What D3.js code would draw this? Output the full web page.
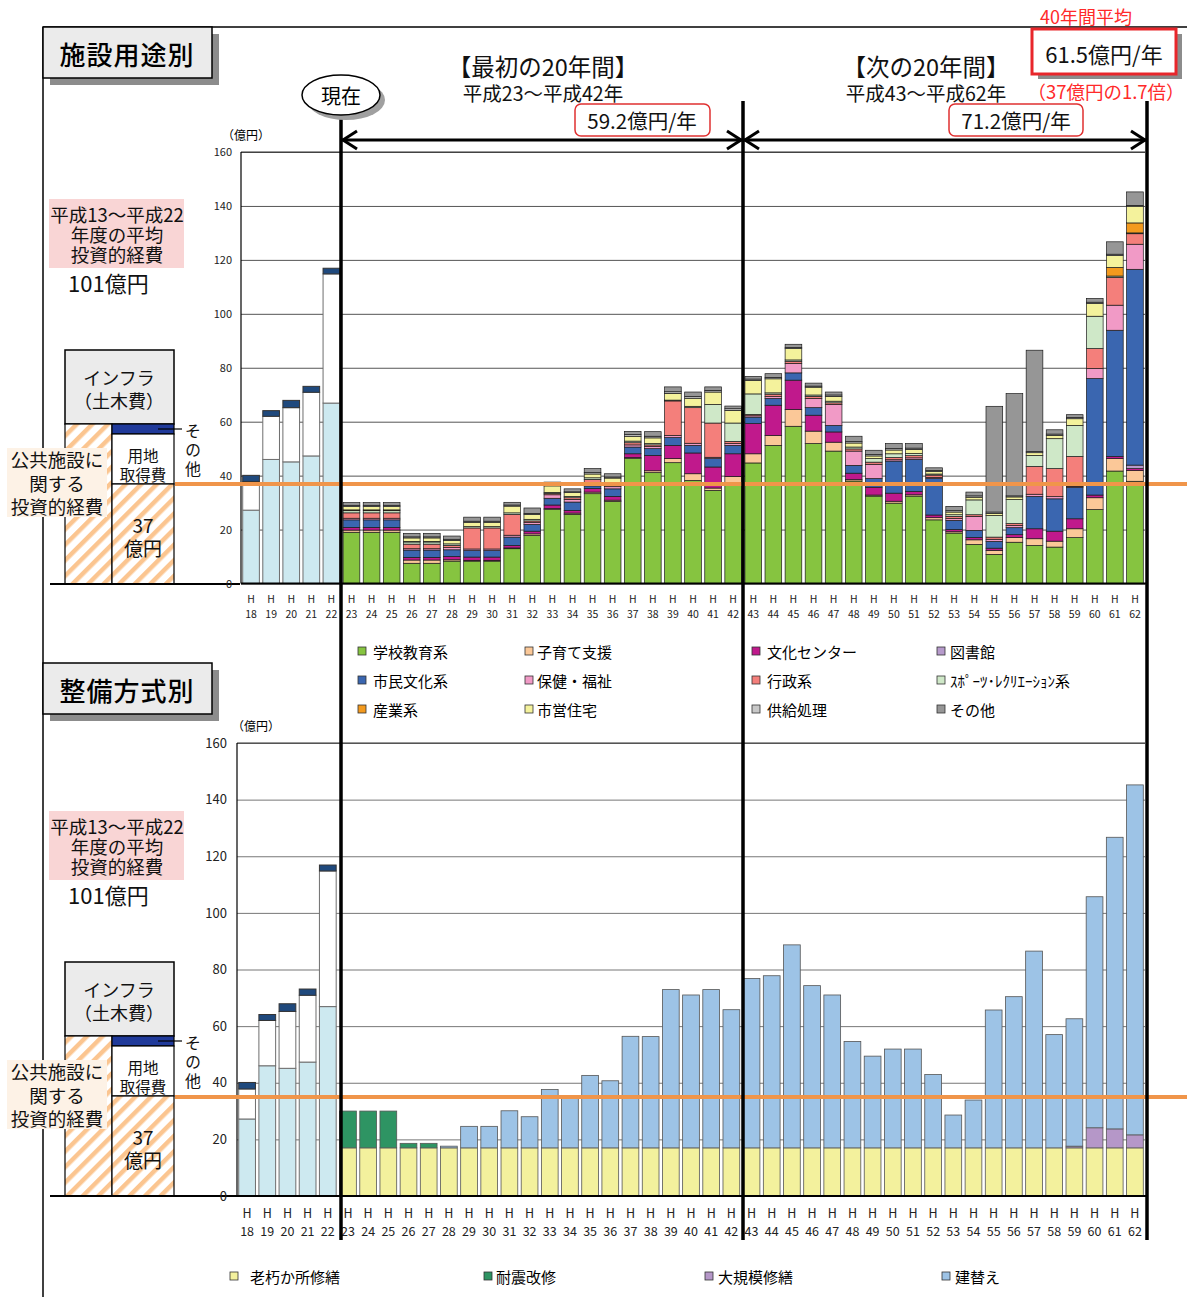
<!DOCTYPE html>
<html>
<head>
<meta charset="utf-8">
<script src="https://cdn.jsdelivr.net/npm/d3@7"></script>
<style>
body { margin: 0; background: #fff; }
svg { font-family: "Noto Sans CJK JP", "Noto Sans", sans-serif; }
</style>
</head>
<body>
<svg width="1187" height="1297"></svg>
<script>
// ---- data (億円) ----
const pastYears = ["18","19","20","21","22"];
const futureYears = ["23","24","25","26","27","28","29","30","31","32","33","34","35","36","37","38","39","40","41","42",
                     "43","44","45","46","47","48","49","50","51","52","53","54","55","56","57","58","59","60","61","62"];
const allYears = pastYears.concat(futureYears);
const yTicks = [0, 20, 40, 60, 80, 100, 120, 140, 160];

// H18-H22 actuals
const pastFacility = [27.2, 46.0, 45.1, 47.3, 66.9];
const pastLand     = [10.6, 16.0, 20.1, 23.6, 47.9];
const pastOther    = [2.3, 2.1, 2.7, 2.2, 2.1];

// 施設用途別 H23-H62
const school    = [19.0,19.0,19.0,7.5,7.5,8.3,8.3,8.3,12.9,17.8,27.4,25.6,33.3,30.4,46.3,41.1,44.8,38.2,34.5,37.2,
                   44.7,51.2,58.3,51.9,49.1,38.0,32.4,29.8,32.4,23.6,18.7,14.5,10.8,15.3,14.1,13.5,17.0,27.4,41.7,37.9];
const childcare = [0.8,0.8,0.8,1.2,1.2,0.5,0.3,0.3,0.3,0.6,0.4,0.5,0.6,0.5,0.4,0.7,1.5,2.5,0.9,2.5,
                   3.4,3.7,6.2,4.6,3.3,0.5,0.4,0.7,0.5,0.8,0.5,1.7,1.5,1.8,2.5,2.2,3.3,4.4,4.6,4.0];
const culture   = [1.0,1.0,1.0,1.0,1.0,1.2,1.2,1.2,0.9,1.0,1.3,1.0,1.3,1.4,1.4,5.7,4.9,7.7,7.8,8.4,
                   11.2,11.2,10.9,5.9,3.8,2.4,2.9,3.0,1.2,1.0,0.8,0.9,0.8,1.0,3.7,3.7,3.7,1.0,0.8,0.7];
const library   = [0,0,0,0,0,0,0,0,0,0,0,0,0,0,0,0,0,0,0,0,
                   0,0,0,0,0,0,0,0,0,0,0,0,0,0,0,0,0,0,0,1.3];
const civic     = [2.8,2.8,2.8,2.7,2.7,2.5,2.4,2.4,3.1,2.5,2.5,3.1,1.0,2.8,2.5,2.5,2.9,2.8,3.1,3.1,
                   2.4,2.5,2.7,2.8,2.4,2.9,3.2,11.9,11.9,13.5,3.4,2.6,2.5,2.6,12.0,12.0,11.7,43.2,46.8,72.6];
const health    = [0.6,0.6,0.6,0.5,0.5,0.8,0.6,0.6,0.7,0.8,1.3,1.0,1.2,0.8,0.8,0.8,0.8,0.8,0.5,0.7,
                   0.5,0.7,3.5,3.4,7.8,5.3,5.3,0.5,0.6,0.4,0.7,5.2,0.8,0.8,0.8,0.8,0.3,3.7,9.3,9.3];
const admin     = [2.0,2.0,2.0,1.7,1.7,0.8,7.8,7.8,7.7,0.5,0.5,0.6,1.2,0.4,0.8,0.6,12.8,13.2,12.7,0.8,
                   0.5,0.9,0.8,0.8,0.6,0.8,0.8,0.8,0.8,0.9,0.8,0.6,0.8,0.7,10.3,10.4,11.1,7.4,10.3,3.9];
const sports    = [0.8,0.8,0.8,0.8,0.8,0.6,0.5,0.5,0.6,0.6,0.4,0.5,0.6,0.4,0.6,0.5,0.3,0.5,6.9,6.8,
                   7.6,0.5,0.5,0.5,0.6,0.7,1.3,1.4,0.8,0.4,0.6,5.5,8.0,8.9,4.1,11.1,11.5,12.0,0.5,0.3];
const industry  = [0.3,0.3,0.3,0.2,0.2,0,0,0,0,0,0,0,0,0,0,0,0,0,0,0,
                   0,0,0,0,0,0,0,0,0,0,0,0,0,0,0,0,0,0,3.2,3.7];
const housing   = [1.2,1.2,1.2,1.3,1.3,1.3,1.6,1.6,2.5,1.8,2.4,1.4,1.4,2.4,1.8,2.1,2.5,3.0,4.6,4.7,
                   5.0,5.2,4.2,2.9,1.8,1.5,1.0,1.4,1.5,0.9,1.0,1.0,0.8,1.0,1.0,1.2,2.5,4.7,4.4,6.2];
const supply    = [0.5,0.5,0.5,0.4,0.4,0.4,0.4,0.4,0.4,0.4,0.4,0.3,0.5,0.4,0.6,0.6,0.6,0.6,0.6,0.6,
                   0.5,0.5,0.4,0.4,0.5,0.5,0.5,0.5,0.5,0.4,0.5,0.5,0.5,0.4,0.4,0.5,0.4,0.5,0.5,0.3];
const other     = [1.0,1.0,1.0,1.3,1.3,1.2,1.5,1.5,1.0,2.0,1.0,1.1,1.5,1.2,1.2,1.7,1.8,1.7,1.3,1.0,
                   1.0,1.4,1.2,1.1,1.1,2.0,1.6,1.9,1.7,1.0,1.6,1.4,39.2,37.9,37.6,1.6,1.1,1.4,4.6,5.0];

// 整備方式別 H23-H62
const repair   = [17,17,17,17,17,17,17,17,17,17,17,17,17,17,17,17,17,17,17,17,
                  17,17,17,17,17,17,17,17,17,17,17,17,17,17,17,17,17,17,17,17];
const seismic  = [13.0,13.0,13.0,1.6,1.6,0,0,0,0,0,0,0,0,0,0,0,0,0,0,0,
                  0,0,0,0,0,0,0,0,0,0,0,0,0,0,0,0,0,0,0,0];
const major    = [0,0,0,0,0,0,0,0,0,0,0,0,0,0,0,0,0,0,0,0,
                  0,0,0,0,0,0,0,0,0,0,0,0,0,0,0,0,0.6,7.1,6.7,4.6];
const rebuild  = [0,0,0,0,0,0.6,7.6,7.6,13.1,11.0,20.6,18.1,25.6,23.7,39.4,39.3,55.9,54.0,55.9,48.8,
                  59.8,60.8,71.7,57.3,54.0,37.6,32.4,34.9,34.9,25.9,11.6,16.9,48.7,53.4,69.5,40.0,45.0,81.6,103.0,123.6];

const useKeys  = ["school","childcare","culture","library","civic","health","admin","sports","industry","housing","supply","other"];
const useNames = ["学校教育系","子育て支援","文化センター","図書館","市民文化系","保健・福祉","行政系","ｽﾎﾟｰﾂ･ﾚｸﾘｴｰｼｮﾝ系","産業系","市営住宅","供給処理","その他"];
const useColors = ["#86c440","#fbc898","#c0198c","#b69acb","#3a66b0","#f19ac6","#f47f7b","#cfe8c8","#f39a1e","#f4f29c","#c8c8c8","#969696"];
const useLegendCols = [["school","civic","industry"],["childcare","health","housing"],["culture","admin","supply"],["library","sports","other"]];

const wayKeys   = ["repair","seismic","major","rebuild"];
const wayNames  = ["老朽か所修繕","耐震改修","大規模修繕","建替え"];
const wayColors = ["#f3f19d","#2e9463","#b597c8","#9dc3e6"];

const pastKeys = ["facility","land","pother"];
const pastColors = ["#cde9f0","#ffffff","#1f497d"];

const useSeries = {school, childcare, culture, library, civic, health, admin, sports, industry, housing, supply, other};
const waySeries = {repair, seismic, major, rebuild};

const useTable = futureYears.map((yr, i) => {
  const row = {year: yr};
  useKeys.forEach(k => row[k] = useSeries[k][i]);
  return row;
});
const wayTable = futureYears.map((yr, i) => {
  const row = {year: yr};
  wayKeys.forEach(k => row[k] = waySeries[k][i]);
  return row;
});
const pastTable = pastYears.map((yr, i) => ({year: yr, facility: pastFacility[i], land: pastLand[i], pother: pastOther[i]}));

const svg = d3.select("svg");
const defs = svg.append("defs");
const pat = defs.append("pattern").attr("id", "hatch").attr("patternUnits", "userSpaceOnUse")
  .attr("width", 11).attr("height", 11).attr("patternTransform", "rotate(45)");
pat.append("rect").attr("width", 11).attr("height", 11).attr("fill", "#fff");
pat.append("rect").attr("width", 4.5).attr("height", 11).attr("fill", "#fbc590");

// multi-line text as one element
function lines(parent, rows, x, size, anchor, color) {
  const t = parent.append("text").attr("font-size", size).attr("text-anchor", anchor || "middle")
    .attr("dominant-baseline", "central").attr("fill", color || "#111");
  rows.forEach(([txt, yy, fs]) => {
    const s = t.append("tspan").attr("x", x).attr("y", yy).text(txt);
    if (fs) s.attr("font-size", fs);
  });
  return t;
}

// outer frame
svg.append("line").attr("x1", 43).attr("x2", 1187).attr("y1", 27).attr("y2", 27).attr("stroke", "#000").attr("stroke-width", 1.5);
svg.append("line").attr("x1", 43).attr("x2", 43).attr("y1", 27).attr("y2", 1297).attr("stroke", "#000").attr("stroke-width", 1.5);

function titleBox(label, top) {
  svg.append("rect").attr("x", 50).attr("y", top + 7).attr("width", 169).attr("height", 51).attr("fill", "#8c8c8c");
  svg.append("rect").attr("x", 43).attr("y", top).attr("width", 169).attr("height", 51)
    .attr("fill", "#ebebeb").attr("stroke", "#000").attr("stroke-width", 1.5);
  svg.append("text").attr("x", 127).attr("y", top + 26).attr("text-anchor", "middle").attr("dominant-baseline", "central")
    .attr("font-size", 26).attr("font-weight", 500).attr("letter-spacing", 1).text(label);
}

function sideDiagram(base) {
  const g = svg.append("g");
  // pink box
  g.append("rect").attr("x", 49).attr("y", base - 385).attr("width", 135).attr("height", 69).attr("fill", "#f9d5d5");
  lines(g, [["平成13～平成22", base - 370], ["年度の平均", base - 350], ["投資的経費", base - 330]], 117, 18.5);
  g.append("text").attr("x", 68).attr("y", base - 302).attr("font-size", 22).attr("dominant-baseline", "central")
    .attr("fill", "#111").text("101億円");
  // infra box
  g.append("rect").attr("x", 65).attr("y", base - 234).attr("width", 109).attr("height", 74)
    .attr("fill", "#ebebeb").attr("stroke", "#000").attr("stroke-width", 1.5);
  lines(g, [["インフラ", base - 207], ["（土木費）", base - 184]], 119, 18);
  // hatched columns
  g.append("rect").attr("x", 65).attr("y", base - 160).attr("width", 47).attr("height", 160)
    .attr("fill", "url(#hatch)").attr("stroke", "#000").attr("stroke-width", 1.2);
  g.append("rect").attr("x", 112).attr("y", base - 160).attr("width", 62).attr("height", 10)
    .attr("fill", "#203a9a").attr("stroke", "#000").attr("stroke-width", 1.2);
  g.append("rect").attr("x", 112).attr("y", base - 150).attr("width", 62).attr("height", 50)
    .attr("fill", "#fff").attr("stroke", "#000").attr("stroke-width", 1.2);
  g.append("rect").attr("x", 112).attr("y", base - 100).attr("width", 62).attr("height", 100)
    .attr("fill", "url(#hatch)").attr("stroke", "#000").attr("stroke-width", 1.2);
  lines(g, [["用地", base - 129], ["取得費", base - 110]], 143, 15.5);
  lines(g, [["37", base - 60], ["億円", base - 37]], 143, 19);
  g.append("line").attr("x1", 158).attr("x2", 182).attr("y1", base - 155).attr("y2", base - 155).attr("stroke", "#000").attr("stroke-width", 1.2);
  // vertical その他
  g.append("text").attr("x", 193).attr("y", base - 161).attr("font-size", 16).attr("writing-mode", "tb")
    .attr("letter-spacing", 3).attr("fill", "#111").text("その他");
  // cream box
  g.append("rect").attr("x", 7).attr("y", base - 136).attr("width", 100).attr("height", 69).attr("fill", "#fdf2e6");
  lines(g, [["公共施設に", base - 125], ["関する", base - 101], ["投資的経費", base - 78]], 57, 18.5);
  // baseline
  g.append("line").attr("x1", 50).attr("x2", 240).attr("y1", base).attr("y2", base).attr("stroke", "#000").attr("stroke-width", 2);
}

function panel(p) {
  const g = svg.append("g");
  const x = d3.scaleBand().domain(allYears).range([p.left, p.right]).paddingInner(0.17).paddingOuter(0.085);
  const y = d3.scaleLinear().domain([0, 160]).range([p.bottom, p.top]);

  const ya = g.append("g").attr("transform", `translate(${p.left},0)`)
    .call(d3.axisLeft(y).tickValues(yTicks).tickSize(-(p.right - p.left)).tickPadding(p.tickPad));
  ya.attr("font-family", null);
  ya.select(".domain").remove();
  ya.selectAll(".tick line").attr("stroke", p.grid).attr("stroke-width", 1);
  ya.selectAll(".tick text").attr("font-size", p.tickFont).attr("fill", "#222");
  g.append("line").attr("x1", p.left).attr("x2", p.right).attr("y1", p.top).attr("y2", p.top).attr("stroke", "#333");
  g.append("line").attr("x1", p.left).attr("x2", p.left).attr("y1", p.top).attr("y2", p.bottom).attr("stroke", "#000").attr("stroke-width", 1.2);

  g.append("text").attr("x", p.unitX).attr("y", p.top - 18).attr("font-size", 12).attr("text-anchor", "middle")
    .attr("dominant-baseline", "central").text("（億円）");

  // past bars
  const pastStack = d3.stack().keys(pastKeys)(pastTable);
  pastStack.forEach((s, si) => {
    g.append("g").selectAll("rect").data(s).join("rect")
      .attr("x", d => x(d.data.year)).attr("width", x.bandwidth())
      .attr("y", d => y(d[1])).attr("height", d => y(d[0]) - y(d[1]))
      .attr("fill", pastColors[si]).attr("stroke", si === 2 ? "#333" : "#6e6e6e").attr("stroke-width", 1);
  });

  // future bars
  const st = d3.stack().keys(p.keys)(p.table);
  st.forEach((s, si) => {
    g.append("g").selectAll("rect").data(s.filter(d => d[1] - d[0] > 0)).join("rect")
      .attr("x", d => x(d.data.year)).attr("width", x.bandwidth())
      .attr("y", d => y(d[1])).attr("height", d => y(d[0]) - y(d[1]))
      .attr("fill", p.colors[si]).attr("stroke", p.segStroke).attr("stroke-width", p.segWidth);
  });

  // x axis labels (H / year on two lines)
  const xa = g.append("g").attr("transform", `translate(0,${p.bottom})`)
    .call(d3.axisBottom(x).tickSize(0).tickFormat(""));
  xa.attr("font-family", null);
  xa.select(".domain").remove();
  const lab = xa.selectAll(".tick").append("text").attr("text-anchor", "middle")
    .attr("font-size", p.xFont).attr("fill", "#222");
  lab.append("tspan").attr("x", 0).attr("y", p.hY).text("H");
  lab.append("tspan").attr("x", 0).attr("y", p.nY).text(d => d);

  g.append("line").attr("x1", p.left).attr("x2", p.right + 2).attr("y1", y(0)).attr("y2", y(0)).attr("stroke", "#000").attr("stroke-width", 2);
  return {x, y};
}

// ---- top panel ----
titleBox("施設用途別", 27);
sideDiagram(584);
panel({left: 241, right: 1145, top: 152, bottom: 583.5, grid: "#555", tickFont: 11, tickPad: 9, unitX: 246,
  keys: useKeys, table: useTable, colors: useColors, segStroke: "#1a1a1a", segWidth: 0.7,
  xFont: 10.5, hY: 19, nY: 34});

// ---- bottom panel ----
titleBox("整備方式別", 663);
sideDiagram(1196);
panel({left: 237, right: 1145, top: 743, bottom: 1196, grid: "#777", tickFont: 13, tickPad: 10, unitX: 256,
  keys: wayKeys, table: wayTable, colors: wayColors, segStroke: "#555", segWidth: 0.8,
  xFont: 12.5, hY: 22, nY: 40});

// orange reference line (37億円 box top)
[484, 1097].forEach(yy => svg.append("line").attr("x1", 175).attr("x2", 1187).attr("y1", yy).attr("y2", yy)
  .attr("stroke", "#f0954a").attr("stroke-width", 4));

// legends
const useLegend = svg.append("g");
const legColX = [[358, 373], [525, 537], [752, 767], [937, 950]];
const legRowY = [651, 680, 709];
useLegendCols.forEach((col, ci) => col.forEach((k, ri) => {
  const i = useKeys.indexOf(k);
  useLegend.append("rect").attr("x", legColX[ci][0]).attr("y", legRowY[ri] - 4).attr("width", 8).attr("height", 8)
    .attr("fill", useColors[i]).attr("stroke", "#333").attr("stroke-width", 0.8);
  useLegend.append("text").attr("x", legColX[ci][1]).attr("y", legRowY[ri]).attr("dominant-baseline", "central")
    .attr("font-size", 15).text(useNames[i]);
}));
const wayLegX = [[230, 250], [484, 496], [705, 718], [942, 955]];
wayKeys.forEach((k, i) => {
  svg.append("rect").attr("x", wayLegX[i][0]).attr("y", 1272).attr("width", 8).attr("height", 8)
    .attr("fill", wayColors[i]).attr("stroke", "#333").attr("stroke-width", 0.8);
  svg.append("text").attr("x", wayLegX[i][1]).attr("y", 1276).attr("dominant-baseline", "central")
    .attr("font-size", 15).text(wayNames[i]);
});

// period dividers
[[341, 118], [743, 101], [1147, 101]].forEach(([xx, y1]) => svg.append("line")
  .attr("x1", xx).attr("x2", xx).attr("y1", y1).attr("y2", 1240).attr("stroke", "#000").attr("stroke-width", 3.5));

function dblArrow(x1, x2, yy) {
  const a = svg.append("g").attr("stroke", "#000").attr("stroke-width", 3).attr("fill", "none");
  a.append("line").attr("x1", x1).attr("x2", x2).attr("y1", yy).attr("y2", yy);
  a.append("path").attr("d", `M${x1 + 15},${yy - 9}L${x1 + 1},${yy}L${x1 + 15},${yy + 9}`);
  a.append("path").attr("d", `M${x2 - 15},${yy - 9}L${x2 - 1},${yy}L${x2 - 15},${yy + 9}`);
}
dblArrow(342, 742, 140);
dblArrow(744, 1146, 140);

// 現在
svg.append("ellipse").attr("cx", 346).attr("cy", 100).attr("rx", 39).attr("ry", 20).attr("fill", "#a0a0a0");
svg.append("ellipse").attr("cx", 341).attr("cy", 95).attr("rx", 39).attr("ry", 20).attr("fill", "#fff").attr("stroke", "#000").attr("stroke-width", 1.5);
svg.append("text").attr("x", 341).attr("y", 95).attr("text-anchor", "middle").attr("dominant-baseline", "central").attr("font-size", 20).text("現在");

// period headings
lines(svg, [["【最初の20年間】", 66, 23.5], ["平成23～平成42年", 92, 19.5]], 543, 23.5);
lines(svg, [["【次の20年間】", 66, 23.5], ["平成43～平成62年", 92, 19.5]], 926, 23.5);

const head = (txt, x, y, size, color) => svg.append("text").attr("x", x).attr("y", y).attr("text-anchor", "middle")
  .attr("dominant-baseline", "central").attr("font-size", size).attr("fill", color || "#111").text(txt);

svg.append("rect").attr("x", 575).attr("y", 104).attr("width", 135).attr("height", 32).attr("rx", 6)
  .attr("fill", "#fff").attr("stroke", "#e03030").attr("stroke-width", 1.5);
head("59.2億円/年", 642, 120, 20.5);
svg.append("rect").attr("x", 949).attr("y", 104).attr("width", 134).attr("height", 32).attr("rx", 6)
  .attr("fill", "#fff").attr("stroke", "#e03030").attr("stroke-width", 1.5);
head("71.2億円/年", 1016, 120, 20.5);

// 40年間平均
head("40年間平均", 1086, 16, 18, "#ff2a2a");
svg.append("rect").attr("x", 1038).attr("y", 34).attr("width", 144).attr("height", 45).attr("fill", "#8c8c8c");
svg.append("rect").attr("x", 1032).attr("y", 29).attr("width", 144).attr("height", 45)
  .attr("fill", "#fff").attr("stroke", "#e8262b").attr("stroke-width", 3);
head("61.5億円/年", 1104, 53, 22);
head("（37億円の1.7倍）", 1106, 91, 18.5, "#ff2a2a");
</script>
</body>
</html>
